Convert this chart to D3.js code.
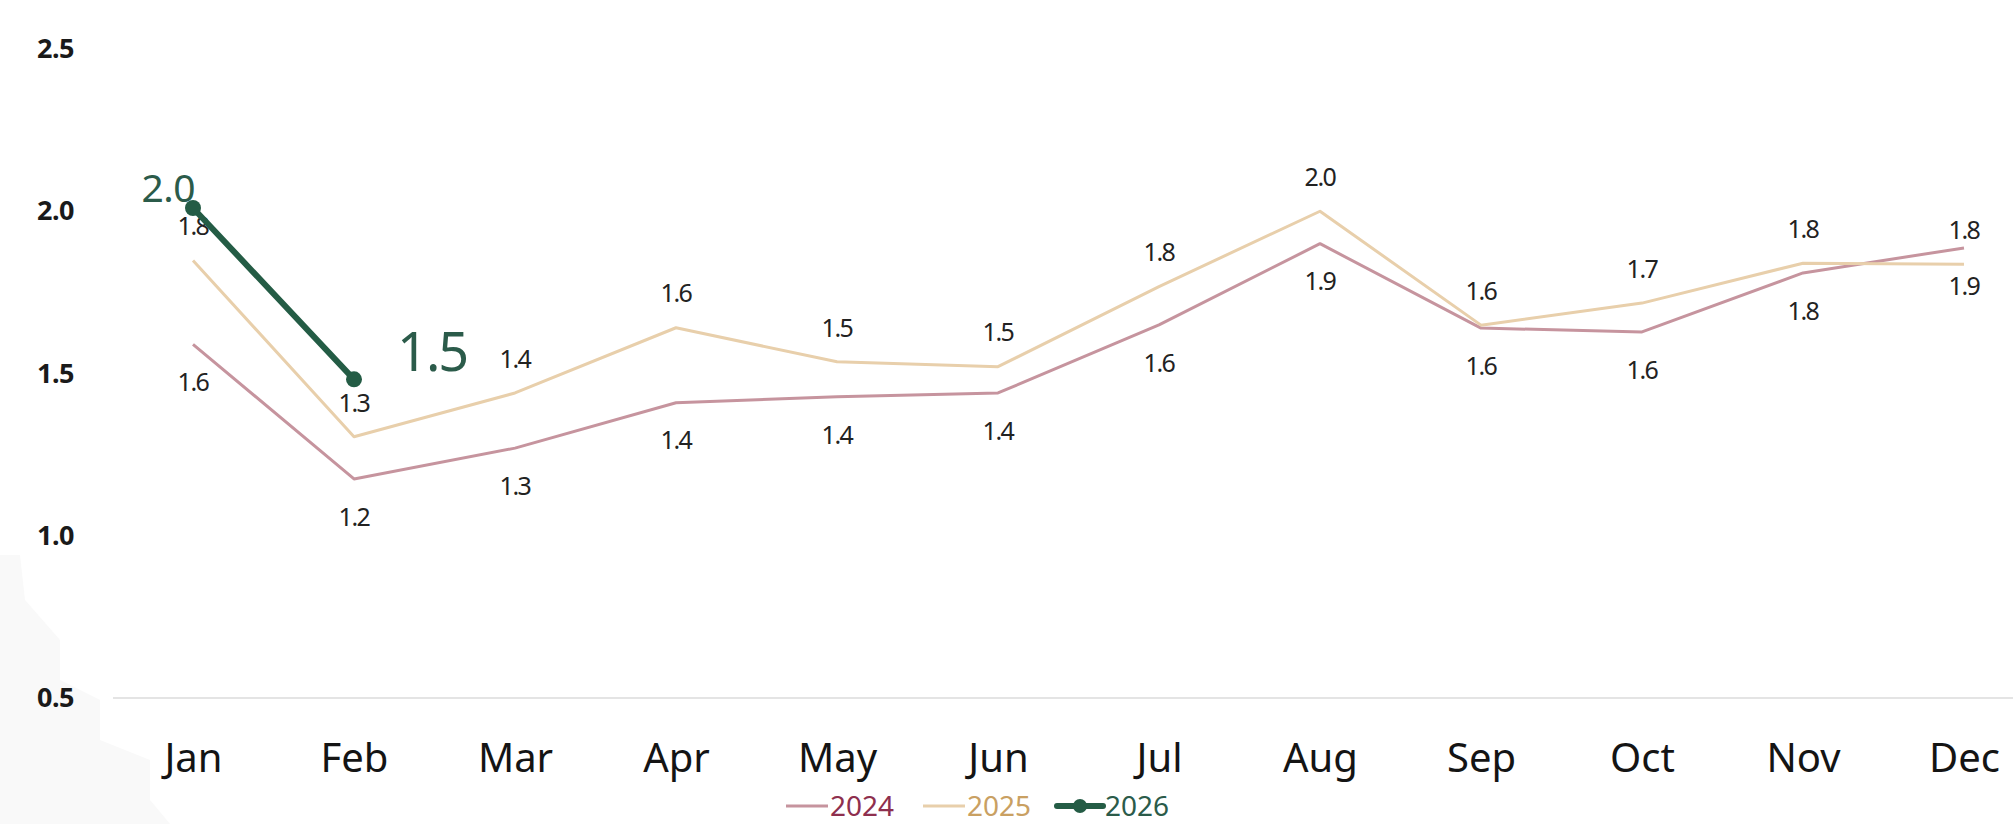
<!DOCTYPE html>
<html>
<head>
<meta charset="utf-8">
<script src="https://cdn.jsdelivr.net/npm/d3@7"></script>
<style>
  html, body { margin: 0; padding: 0; background: #ffffff; }
  svg { display: block; }
</style>
</head>
<body>
<svg id="chart" width="2013" height="824"></svg>
<script>
// ---- data ----
const months = ["Jan","Feb","Mar","Apr","May","Jun","Jul","Aug","Sep","Oct","Nov","Dec"];
const series2024 = [1.59, 1.175, 1.27, 1.41, 1.428, 1.44, 1.65, 1.90, 1.64, 1.628, 1.81, 1.887];
const series2025 = [1.848, 1.305, 1.44, 1.641, 1.536, 1.521, 1.768, 2.0, 1.649, 1.717, 1.84, 1.837];
const series2026 = [2.01, 1.482];
const labels2024 = ["1.6","1.2","1.3","1.4","1.4","1.4","1.6","1.9","1.6","1.6","1.8","1.9"];
const labels2025 = ["1.8","1.3","1.4","1.6","1.5","1.5","1.8","2.0","1.6","1.7","1.8","1.8"];
const labels2026 = ["2.0","1.5"];
const yTicks = [0.5, 1.0, 1.5, 2.0, 2.5];
const legendNames = ["2024","2025","2026"];

const col2024 = "#c6949e", col2025 = "#e8cfab", col2026 = "#245c45";
const txt2024 = "#8e2f4e", txt2025 = "#c9a062", txt2026 = "#2b5b4a";

const svg = d3.select("#chart");
const font = "'Noto Sans', 'Open Sans', sans-serif";

// faint background shape bottom-left
svg.append("path")
  .attr("d", "M0,555 L20,555 L25,600 L60,640 L60,680 L100,700 L100,740 L150,760 L150,800 L170,824 L0,824 Z")
  .attr("fill", "#f9f9f9");

const x = d3.scalePoint().domain(months).range([193, 1964]);
const y = d3.scaleLinear().domain([0.5, 2.5]).range([698, 49]);

// baseline gridline at 0.5
svg.append("line")
  .attr("x1", 113).attr("x2", 2013)
  .attr("y1", y(0.5)).attr("y2", y(0.5))
  .attr("stroke", "#e4e4e4").attr("stroke-width", 2);

// y axis
const yAxis = svg.append("g")
  .attr("transform", "translate(78,0)")
  .call(d3.axisLeft(y).tickValues(yTicks).tickFormat(d3.format(".1f")).tickSize(0).tickPadding(4));
yAxis.select(".domain").remove();
yAxis.selectAll("text")
  .attr("font-family", font).attr("font-size", 27).attr("font-weight", 700)
  .attr("fill", "#1a1a1a").attr("letter-spacing", -0.5);

// x axis
const xAxis = svg.append("g")
  .attr("transform", `translate(0,${y(0.5)})`)
  .call(d3.axisBottom(x).tickSize(0).tickPadding(46));
xAxis.select(".domain").remove();
xAxis.selectAll("text")
  .attr("font-family", font).attr("font-size", 40).attr("font-weight", 400)
  .attr("fill", "#141414");

const line = d3.line().x((d, i) => x(months[i])).y(d => y(d));

// 2024 line
svg.append("path").datum(series2024)
  .attr("d", line).attr("fill", "none")
  .attr("stroke", col2024).attr("stroke-width", 3).attr("stroke-linejoin", "round");
// 2025 line
svg.append("path").datum(series2025)
  .attr("d", line).attr("fill", "none")
  .attr("stroke", col2025).attr("stroke-width", 3).attr("stroke-linejoin", "round");

// data labels
const labG = svg.append("g")
  .attr("font-family", font).attr("font-size", 25).attr("fill", "#222")
  .attr("text-anchor", "middle").attr("letter-spacing", -1.5);
labG.selectAll("text.l25").data(series2025).enter().append("text")
  .attr("x", (d, i) => x(months[i]))
  .attr("y", d => y(d) - 34)
  .attr("dy", "0.35em")
  .text((d, i) => labels2025[i]);
labG.selectAll("text.l24").data(series2024).enter().append("text")
  .attr("x", (d, i) => x(months[i]))
  .attr("y", d => y(d) + 38)
  .attr("dy", "0.35em")
  .text((d, i) => labels2024[i]);

// 2026 line with markers
svg.append("path").datum(series2026)
  .attr("d", line).attr("fill", "none")
  .attr("stroke", col2026).attr("stroke-width", 6).attr("stroke-linecap", "round");
svg.selectAll("circle.p26").data(series2026).enter().append("circle")
  .attr("cx", (d, i) => x(months[i])).attr("cy", d => y(d))
  .attr("r", 8).attr("fill", col2026);

// 2026 big labels
svg.append("text")
  .attr("x", x(months[0]) + 2).attr("y", y(series2026[0]) - 20)
  .attr("dy", "0.35em").attr("text-anchor", "end")
  .attr("font-family", font).attr("font-size", 39).attr("fill", txt2026)
  .attr("letter-spacing", -0.5)
  .text(labels2026[0]);
svg.append("text")
  .attr("x", x(months[1]) + 43).attr("y", y(series2026[1]) - 27)
  .attr("dy", "0.35em").attr("text-anchor", "start")
  .attr("font-family", font).attr("font-size", 54).attr("fill", txt2026)
  .attr("letter-spacing", -2)
  .text(labels2026[1]);

// legend
const legY = 806;
const legend = svg.append("g").attr("font-family", font).attr("font-size", 28);
const legItems = [
  {name: legendNames[0], x0: 786, x1: 828, col: col2024, tc: txt2024, w: 3, dot: false},
  {name: legendNames[1], x0: 923, x1: 965, col: col2025, tc: txt2025, w: 3, dot: false},
  {name: legendNames[2], x0: 1057, x1: 1103, col: col2026, tc: txt2026, w: 6, dot: true}
];
legItems.forEach(it => {
  legend.append("line")
    .attr("x1", it.x0).attr("x2", it.x1).attr("y1", legY).attr("y2", legY)
    .attr("stroke", it.col).attr("stroke-width", it.w).attr("stroke-linecap", it.dot ? "round" : "butt");
  if (it.dot) {
    legend.append("circle").attr("cx", (it.x0 + it.x1) / 2).attr("cy", legY).attr("r", 7).attr("fill", it.col);
  }
  legend.append("text")
    .attr("x", it.x1 + 2).attr("y", legY).attr("dy", "0.35em")
    .attr("fill", it.tc)
    .text(it.name);
});
</script>
</body>
</html>
